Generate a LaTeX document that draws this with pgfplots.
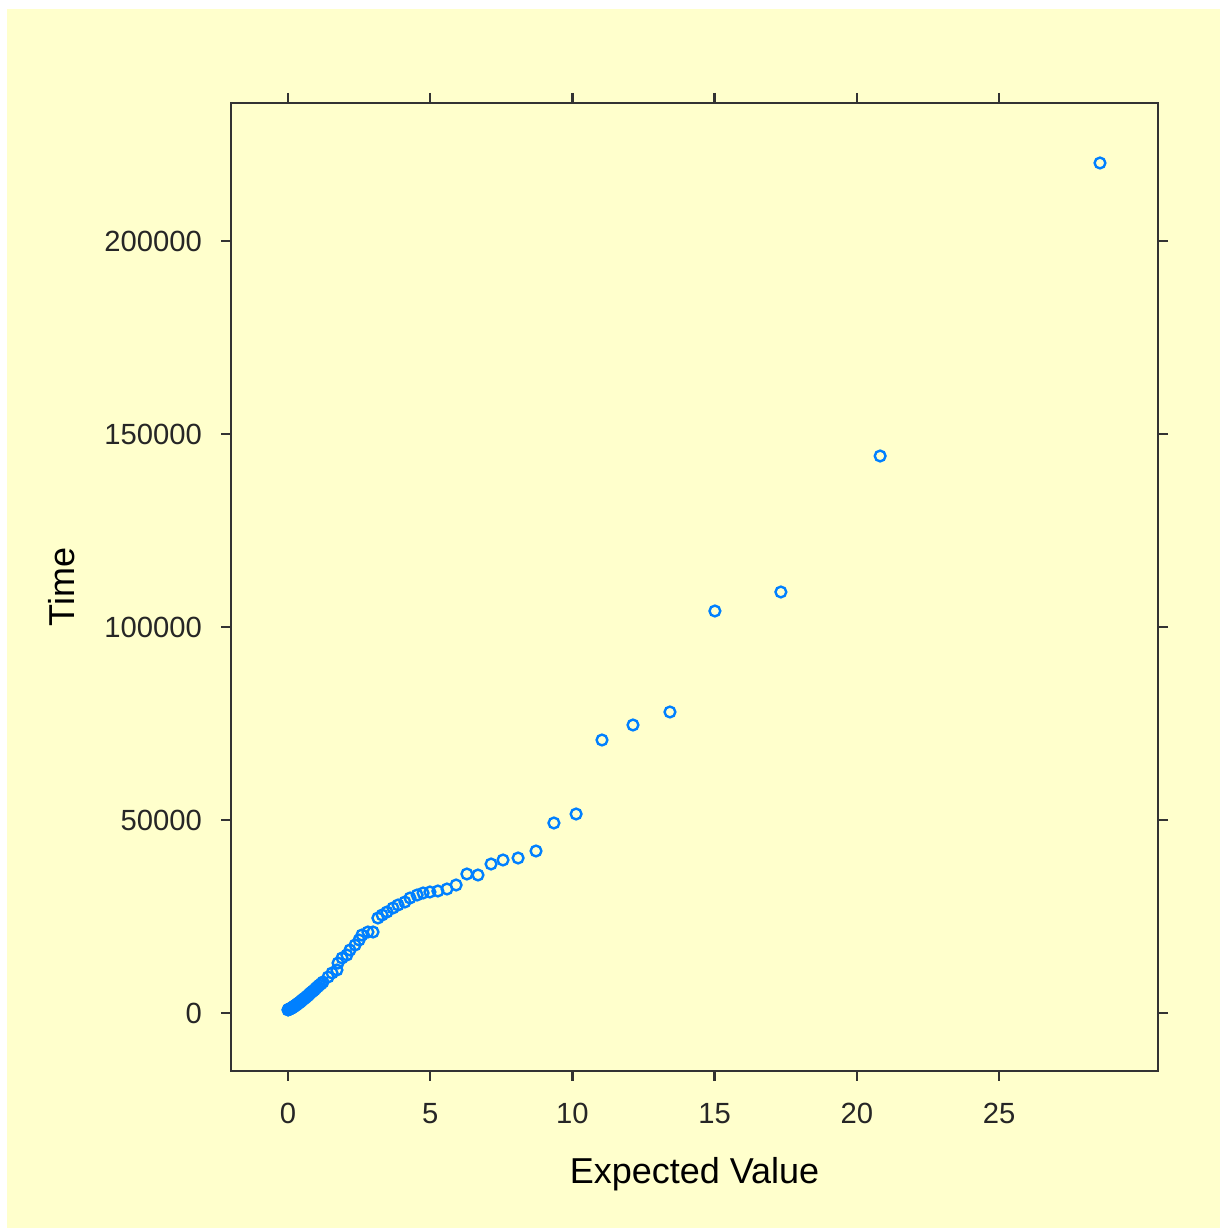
\documentclass[border=0pt]{standalone}
\usepackage{fontspec}
\setmainfont{Liberation Sans}
\usepackage{pgfplots}
\pgfplotsset{compat=1.18}
\definecolor{bgyellow}{HTML}{FFFFCC}
\definecolor{ptblue}{HTML}{0080FF}
\definecolor{axgray}{HTML}{333333}
\begin{document}
\begin{tikzpicture}
\fill[white] (0pt,0pt) rectangle (305pt,307pt);
\fill[bgyellow] (1.75pt,0pt) rectangle (305pt,304.75pt);
\begin{axis}[
  at={(57.75pt,39.25pt)}, anchor=south west,
  scale only axis, width=231.75pt, height=242pt,
  xmin=-2.004, xmax=30.59, ymin=-15026, ymax=235751,
  xtick={0,5,10,15,20,25},
  ytick={0,50000,100000,150000,200000},
  scaled y ticks=false,
  yticklabel style={/pgf/number format/fixed, /pgf/number format/1000 sep={}, xshift=-1.25pt},
  xticklabel style={yshift=-2pt},
  /pgf/number format/assume math mode=true,
  tick align=outside, major tick length=2.5pt,
  xtick pos=both, ytick pos=both, ticklabel pos=left,
  axis line style={axgray, line width=0.6pt},
  every tick/.style={axgray, line width=0.6pt},
  tick label style={font=\fontsize{7.3}{8}\selectfont, text=black!85},
  label style={font=\fontsize{9}{10}\selectfont, text=black},
  xlabel={Expected Value}, ylabel={Time},
  xlabel style={at={(axis description cs:0.5,0)}, anchor=center, yshift=-25.75pt},
  ylabel style={at={(axis description cs:0,0.5)}, anchor=center, yshift=42.25pt},
  axis background/.style={fill=bgyellow},
  clip=false,
]
\addplot[only marks, mark=o, mark size=1.35pt, color=ptblue, mark options={line width=0.6pt}] coordinates {
(28.55,220207) (20.82,144300) (17.33,109068) (15.01,104146) (13.43,77980)
(12.13,74612) (11.04,70726) (10.13,51555) (9.35,49223) (8.72,41969)
(8.09,40156) (7.56,39638) (7.14,38601) (6.68,35752) (6.29,36011)
(5.91,33161) (5.59,32125) (5.27,31607) (4.99,31347) (4.75,31088)
(4.54,30570) (4.29,29793) (4.11,28757) (3.87,27980) (3.69,27202)
(3.48,26166) (3.31,25389) (3.16,24612) (2.99,20985) (2.81,20985)
(2.60,20207) (2.50,18912) (2.36,17617) (2.18,16321) (2.07,15026)
(1.90,14249) (1.76,12954) (1.72,11140) (1.55,10363) (1.41,9327)
(1.23,8031) (1.17,7600) (1.10,7200) (1.04,6800) (0.98,6400)
(0.93,6000) (0.88,5700) (0.83,5400) (0.78,5100) (0.74,4800)
(0.70,4500) (0.66,4300) (0.62,4000) (0.58,3800) (0.55,3600)
(0.51,3400) (0.48,3200) (0.45,3000) (0.42,2800) (0.39,2650)
(0.36,2500) (0.33,2350) (0.31,2200) (0.28,2050) (0.26,1950)
(0.23,1800) (0.21,1700) (0.19,1600) (0.17,1500) (0.15,1400)
(0.13,1300) (0.11,1200) (0.09,1150) (0.07,1100) (0.05,1000)
(0.04,950) (0.02,900) (0.01,850) (0.00,800)
};
\end{axis}
\end{tikzpicture}
\end{document}
